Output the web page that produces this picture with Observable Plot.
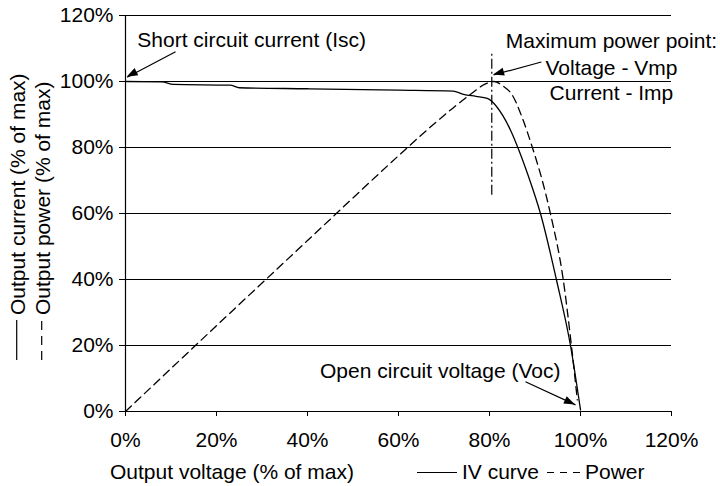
<!DOCTYPE html>
<html><head><meta charset="utf-8">
<script src="https://cdn.jsdelivr.net/npm/d3@7"></script>
<script src="https://cdn.jsdelivr.net/npm/@observablehq/plot@0.6"></script>
<style>body{margin:0;background:#fff}</style>
</head><body><div id="chart"></div>
<script>
// IV curve (output current vs output voltage, % of max)
const ivVoltage = [0, 8, 10.5, 23, 25, 40, 60, 72, 74.3, 77, 79.5, 80.5, 81.5, 83, 84.6, 86.2, 88.5, 91.2, 94.7, 97.8, 100];
const ivCurrent = [100, 99.9, 99.1, 98.9, 98.1, 97.8, 97.4, 97.1, 96.1, 95.5, 94.9, 94.0, 92.5, 89.5, 85.3, 80.1, 71.5, 60, 40, 20, 0.5];
// Power curve (output power vs output voltage, % of max)
const powerVoltage = [0, 20, 40, 60, 67, 72, 76, 79, 81, 83, 85, 87.2, 89.4, 91.5, 93.4, 96.2, 98, 99.3];
const powerValue = [0, 26, 51.8, 77.5, 86.2, 92, 96.3, 99.2, 100, 98.6, 95.9, 89, 80.1, 70.5, 59.9, 40, 20, 3.5];
// Axes
const xTicks = [0, 20, 40, 60, 80, 100, 120];
const yTicks = [0, 20, 40, 60, 80, 100, 120];
// Maximum power point marker line
const mppVoltage = 80.5;
const mppLineFrom = 65.5;
const mppLineTo = 108.8;
// Annotations
const noteLabels = ["Short circuit current (Isc)", "Maximum power point:", "Voltage - Vmp", "Current - Imp", "Open circuit voltage (Voc)"];
const noteX = [2.6, 106.8, 106.8, 106.8, 95.6];
const noteY = [112.6, 112.1, 104.0, 96.4, 12.1];
const noteAnchor = ["start", "middle", "middle", "middle", "end"];
const arrowFromX = [11.0, 91.4, 87.9];
const arrowFromY = [109.0, 105.9, 9.0];
const arrowToX = [0.37, 80.9, 98.9];
const arrowToY = [101.3, 102.0, 2.0];
// Labels
const yLabelCurrent = "Output current (% of max)";
const yLabelPower = "Output power (% of max)";
const xLabel = "Output voltage (% of max)";
const legendLabels = ["IV curve", "Power"];

const iv = ivVoltage.map((v, i) => ({v, y: ivCurrent[i]}));
const power = powerVoltage.map((v, i) => ({v, y: powerValue[i]}));
const notes = noteLabels.map((t, i) => ({t, x: noteX[i], y: noteY[i], a: noteAnchor[i]}));
const arrows = arrowFromX.map((x1, i) => ({x1, y1: arrowFromY[i], x2: arrowToX[i], y2: arrowToY[i]}));

const FONT = "'Liberation Sans', Arial, Helvetica, sans-serif";
const FS = 21;

const noteMark = anchor => Plot.text(notes.filter(d => d.a === anchor), {x: "x", y: "y", text: "t", textAnchor: anchor, fontSize: FS, fill: "black"});

const chart = Plot.plot({
  width: 720, height: 486,
  marginLeft: 125, marginRight: 49, marginTop: 15, marginBottom: 75,
  style: {fontFamily: FONT, fontSize: FS + "px", background: "white", color: "black"},
  x: {domain: [0, 120], label: null},
  y: {domain: [0, 120], label: null},
  marks: [
    Plot.ruleY(yTicks.filter(d => d > 0), {stroke: "black", strokeWidth: 1}),
    Plot.axisY({ticks: yTicks, tickSize: 6, tickPadding: 6, tickFormat: d => d + "%", label: null, stroke: "black"}),
    Plot.axisX({ticks: xTicks, tickSize: 5, tickPadding: 16, tickFormat: d => d + "%", label: null, stroke: "black"}),
    Plot.ruleX([0], {stroke: "black", strokeWidth: 1.2}),
    Plot.ruleY([0], {stroke: "black", strokeWidth: 1.2}),
    Plot.line(power, {x: "v", y: "y", curve: "monotone-x", stroke: "black", strokeWidth: 1.3, strokeDasharray: "8,5"}),
    Plot.line(iv, {x: "v", y: "y", curve: "monotone-x", stroke: "black", strokeWidth: 1.3}),
    Plot.ruleX([mppVoltage], {y1: mppLineFrom, y2: mppLineTo, stroke: "black", strokeWidth: 1.2, strokeDasharray: "10,3,2,3"}),
    Plot.link(arrows, {x1: "x1", y1: "y1", x2: "x2", y2: "y2", stroke: "black", strokeWidth: 1.2}),
    noteMark("start"), noteMark("middle"), noteMark("end")
  ]
});
document.getElementById("chart").append(chart);

// Filled arrowheads, placed through the chart's scales
const svg = d3.select(chart);
const sx = chart.scale("x"), sy = chart.scale("y");
arrows.forEach(a => {
  const x1 = sx.apply(a.x1), y1 = sy.apply(a.y1), x2 = sx.apply(a.x2), y2 = sy.apply(a.y2);
  const dx = x2 - x1, dy = y2 - y1, len = Math.hypot(dx, dy);
  const ux = dx / len, uy = dy / len, nx = -uy, ny = ux;
  const L = 11, W = 4;
  const bx = x2 - L * ux, by = y2 - L * uy;
  svg.append("polygon")
    .attr("points", [[x2, y2], [bx + W * nx, by + W * ny], [bx - W * nx, by - W * ny]].map(p => p.join(",")).join(" "))
    .attr("fill", "black");
});

const addText = (sel, x, y, t) => sel.append("text").attr("x", x).attr("y", y)
  .attr("font-family", FONT).attr("font-size", FS).attr("fill", "black").attr("text-anchor", "start").text(t);

// Rotated y-axis label with line swatches
const g1 = svg.append("g").attr("transform", "translate(25,315) rotate(-90)");
g1.append("line").attr("x1", -45).attr("x2", -5).attr("y1", -8.3).attr("y2", -8.3).attr("stroke", "black").attr("stroke-width", 1.2);
addText(g1, 0, 0, yLabelCurrent);
const g2 = svg.append("g").attr("transform", "translate(50,315) rotate(-90)");
g2.append("line").attr("x1", -45).attr("x2", -5).attr("y1", -8.3).attr("y2", -8.3).attr("stroke", "black").attr("stroke-width", 1.2).attr("stroke-dasharray", "9,6");
addText(g2, 0, 0, yLabelPower);

// X-axis label and legend
addText(svg, 110, 479, xLabel);
svg.append("line").attr("x1", 417).attr("x2", 457).attr("y1", 472.5).attr("y2", 472.5).attr("stroke", "black").attr("stroke-width", 1.2);
addText(svg, 462, 479, legendLabels[0]);
svg.append("line").attr("x1", 547).attr("x2", 580).attr("y1", 472.5).attr("y2", 472.5).attr("stroke", "black").attr("stroke-width", 1.2).attr("stroke-dasharray", "7,6");
addText(svg, 585, 479, legendLabels[1]);
</script>
</body></html>
